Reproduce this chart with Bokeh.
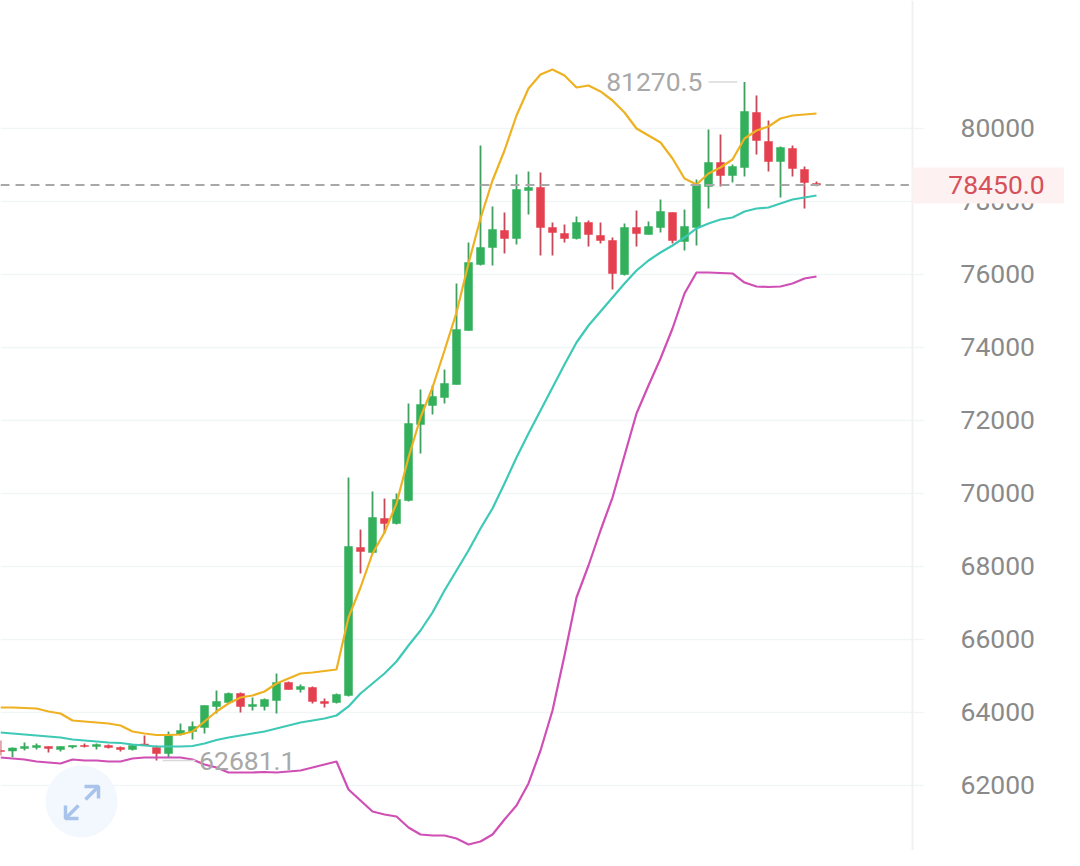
from bokeh.plotting import figure
from bokeh.models import ColumnDataSource, FixedTicker, BasicTickFormatter, LinearAxis, BoxAnnotation, Label
from bokeh.core.properties import value
from bokeh.embed import file_html
from bokeh.resources import INLINE

opens = [62957,62943,63012,63039,63067,62985,63053,63094,63067,63094,63039,62985,63135,63039,62875,63396,63478,63587,64163,64272,
         64518,64163,64163,64327,64820,64628,64683,64300,64272,64464,68519,68382,69314,69177,69807,71890,72410,72629,72985,74465,
         76274,76739,77205,76986,78301,78383,77287,77123,76986,77424,77068,76931,75999,77287,77095,77287,77698,76904,77287,78411,
         79068,78712,78931,80438,79644,79096,79452,78877,78493]
highs = [63231,63039,63176,63149,63067,63067,63094,63149,63149,63122,63067,63122,63368,63094,63478,63697,63752,64190,64601,64546,
         64546,64409,64382,65067,64848,64766,64711,64382,64518,70437,69012,70054,69862,70000,72465,72849,72958,73396,75753,76876,
         79534,77863,77698,78740,78822,78794,77424,77369,77589,77479,77424,77013,77397,77753,77452,78054,77698,77780,78602,79972,
         79835,79013,81270.5,80904,80219,79507,79534,78959,78548]
lows = [62820,62773,62957,62985,62902,62930,63012,63039,62985,63012,62930,62957,63094,62681.1,62765,63368,63258,63423,63971,64245,
        63998,64053,64053,63971,64628,64546,64245,64135,64245,64437,67807,68355,68903,69150,69780,71095,72163,72465,72985,74465,
        76246,76246,76575,76821,77643,76520,76520,76876,76958,76767,76849,75588,75972,76767,77095,77150,76849,76657,76794,77808,
        78411,78520,78685,79287,78822,78109,78685,77808,78420]
closes = [62930,63026,63067,63094,63012,63067,63094,63067,63122,63039,62985,63094,63108,62875,63396,63505,63615,64190,64300,64518,
          64163,64218,64354,64820,64628,64711,64300,64245,64491,68547,68410,69341,69177,69834,71917,72437,72657,73013,74492,76328,
          76739,77233,76986,78328,78383,77287,77150,76986,77424,77095,76931,76027,77287,77123,77315,77726,76931,77315,78466,79068,
          78712,78959,80466,79671,79096,79479,78904,78520,78450]
upper = [64135,64135,64122,64108,64026,63971,63779,63752,63724,63697,63642,63478,63423,63382,63382,63396,63478,63752,64026,64245,
         64409,64464,64574,64793,64930,65067,65094,65135,65176,66601,67423,68355,68930,69725,70985,72081,72903,73917,74958,76301,
         77534,78575,79397,80356,81096,81479,81616,81452,81123,81178,81014,80767,80438,80000,79808,79616,79178,78630,78466,78767,
         78931,79150,79726,79945,80055,80274,80356,80383,80411]
middle = [63450,63423,63396,63368,63341,63313,63258,63231,63204,63176,63163,63122,63094,63067,63067,63067,63080,63149,63245,63313,
          63368,63423,63478,63560,63642,63724,63779,63834,63916,64163,64518,64793,65067,65396,65834,66245,66738,67341,67889,68437,
          69040,69588,70273,70985,71643,72273,72903,73533,74136,74602,74986,75369,75753,76109,76383,76602,76794,77013,77260,77397,
          77506,77561,77726,77808,77835,77945,78054,78109,78164]
lower = [62765,62738,62711,62656,62628,62601,62711,62683,62683,62656,62656,62738,62765,62765,62765,62765,62711,62574,62491,62354,
         62354,62354,62368,62354,62382,62409,62491,62574,62656,61888,61587,61286,61204,61149,60847,60655,60628,60628,60546,60381,
         60464,60655,61066,61450,62053,62957,64053,65560,67149,68026,68985,69889,71040,72191,72958,73698,74520,75479,76054,76054,
         76040,76027,75780,75671,75657,75671,75753,75890,75945]
y_ticks = [62000,64000,66000,68000,70000,72000,74000,76000,78000,80000]
last_price = 78450.0
max_label = "81270.5"
min_label = "62681.1"

GREEN, RED = "#33b05b", "#e5404f"
GREEN_WICK, RED_WICK = "#3fa060", "#c44a5a"
FONT = value("Roboto")
X_END = 1064 / 12      # one bar slot is 12 px
AXIS_X = 76            # bar slots up to the price axis
x = list(range(len(opens)))
colors = [GREEN if c >= o else RED for o, c in zip(opens, closes)]
wicks = [GREEN_WICK if c >= o else RED_WICK for o, c in zip(opens, closes)]
src = ColumnDataSource(dict(x=x, o=opens, h=highs, l=lows, c=closes, color=colors, wick=wicks,
                            upper=upper, middle=middle, lower=lower))

p = figure(width=1064, height=850, output_backend="svg", toolbar_location=None,
           x_range=(0, X_END), y_range=(60217, 83507), x_axis_location=None,
           y_axis_location=None, min_border=0, outline_line_color=None,
           background_fill_color="white", border_fill_color="white")
p.grid.visible = False

# horizontal rules reach a little past the axis line
p.segment([0]*len(y_ticks), y_ticks, [77]*len(y_ticks), y_ticks, line_color="#f2f5f8", line_width=1.5)

ax = LinearAxis(fixed_location=AXIS_X, ticker=FixedTicker(ticks=y_ticks),
                formatter=BasicTickFormatter(use_scientific=False))
ax.axis_line_color = "#f1f1f1"
ax.axis_line_width = 2
ax.major_tick_line_color = None
ax.minor_tick_line_color = None
ax.major_tick_in = 0
ax.major_tick_out = 0
ax.major_label_standoff = 48
ax.major_label_text_font = "Roboto"
ax.major_label_text_font_size = "26.5px"
ax.major_label_text_color = "#8a8a8a"
p.add_layout(ax, "right")

# expand icon
p.scatter([81/12], [61560], size=72, marker="circle", fill_color="#f3f7fe", line_color=None)
p.multi_line(xs=[[84/12, 98/12, 98/12], [98/12, 85/12], [65/12, 65/12, 78/12], [65/12, 78/12]],
             ys=[[61971, 61971, 61642], [61971, 61614], [61450, 61094, 61094], [61094, 61450]],
             line_color="#a9c4ea", line_width=3.5)

p.segment("x", "h", "x", "l", source=src, line_color="wick", line_width=1.8)
p.vbar(x="x", width=8/12, top="o", bottom="c", source=src, fill_color="color", line_color="color", line_width=0.5)

p.line("x", "lower", source=src, line_color="#cf4fb4", line_width=2.2)
p.line("x", "middle", source=src, line_color="#3ec9b7", line_width=2.2)
p.line("x", "upper", source=src, line_color="#eeb122", line_width=2.2)

# last price line
p.segment([0], [last_price], [AXIS_X - 0.3], [last_price], line_color="#a8a8a8", line_dash="9 6", line_width=2)

# extreme markers
p.segment([59.0, 13.5], [81270.5, 62681.1], [61.4, 16.25], [81270.5, 62681.1], line_color="#d8d8d8", line_width=1.5)
p.text([58.5], [81270.5], text=[max_label], text_align="right", text_baseline="middle",
       text_font=FONT, text_font_size="26.5px", text_color="#a8a8a8")
p.text([16.55], [62681.1], text=[min_label], text_align="left", text_baseline="middle",
       text_font=FONT, text_font_size="26.5px", text_color="#a8a8a8")

# last price tag on the axis
p.add_layout(BoxAnnotation(left=AXIS_X, right=X_END, top=78931, bottom=77945,
                           fill_color="#fdf1f1", fill_alpha=1, line_color=None))
p.add_layout(Label(x=996/12, y=last_price, text=f"{last_price:.1f}",
                   text_align="center", text_baseline="middle", text_font="Roboto",
                   text_font_size="26.5px", text_color="#d5505a"))

open("out.html", "w").write(file_html(p, INLINE))
